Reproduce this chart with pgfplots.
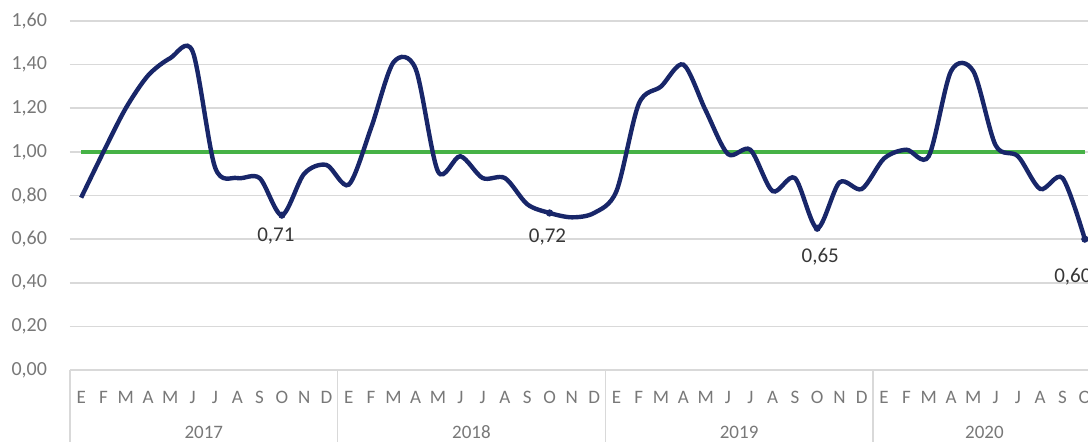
\documentclass[border=0pt]{standalone}
\usepackage{fontspec}
\setmainfont{Carlito}
\usepackage{pgfplots}
\pgfplotsset{compat=1.18}
\usepackage{pgfplotstable}

\definecolor{navy}{RGB}{24,38,105}
\definecolor{okgreen}{RGB}{70,178,70}
\definecolor{gridgray}{RGB}{217,217,217}
\definecolor{ticktext}{RGB}{120,120,120}
\definecolor{labeltext}{RGB}{55,55,55}

% month index (0 = E 2017) and value
\pgfplotstableread{
i v
0 0.79
1 1.00
2 1.20
3 1.35
4 1.43
5 1.46
6 0.93
7 0.88
8 0.88
9 0.71
10 0.90
11 0.94
12 0.85
13 1.11
14 1.41
15 1.38
16 0.91
17 0.98
18 0.88
19 0.88
20 0.76
21 0.72
22 0.70
23 0.72
24 0.82
25 1.22
26 1.30
27 1.40
28 1.19
29 0.99
30 1.01
31 0.82
32 0.88
33 0.65
34 0.86
35 0.83
36 0.97
37 1.01
38 0.98
39 1.37
40 1.37
41 1.03
42 0.98
43 0.83
44 0.88
45 0.60
}\indice

% labelled minima; dx, dy = shift of the label from the point (pt)
\pgfplotstableread{
i v dx dy
9 0.71 -3 10.5
21 0.72 -1 12
33 0.65 1.5 14.5
45 0.60 -6 19
}\minimos

\begin{document}
\begin{tikzpicture}
\begin{axis}[
  at={(35pt,35.5pt)}, anchor=south west,
  scale only axis, width=513pt, height=174.5pt,
  xmin=-0.5, xmax=45.5, ymin=0, ymax=1.6,
  clip=false,
  axis line style={draw=none},
  major tick length=0pt,
  ytick={0,0.2,0.4,0.6,0.8,1.0,1.2,1.4,1.6},
  ymajorgrids, grid style={gridgray, line width=0.8pt},
  yticklabel style={/pgf/number format/fixed, /pgf/number format/fixed zerofill,
    /pgf/number format/precision=2, /pgf/number format/use comma,
    /pgf/number format/assume math mode=true,
    font=\fontsize{10}{12}\selectfont, text=ticktext, anchor=east, xshift=-8pt},
  xtick={0,...,45},
  xticklabels={E,F,M,A,M,J,J,A,S,O,N,D,E,F,M,A,M,J,J,A,S,O,N,D,E,F,M,A,M,J,J,A,S,O,N,D,E,F,M,A,M,J,J,A,S,O},
  xticklabel style={font=\fontsize{9.5}{11}\selectfont, text=ticktext, anchor=center, yshift=-13.5pt},
  extra x ticks={5.5,17.5,29.5,40.5},
  extra x tick labels={2017,2018,2019,2020},
  extra x tick style={xticklabel style={yshift=-17.5pt}},
]
\pgfplotsinvokeforeach{-0.5,11.5,23.5,35.5}{
  \draw[gridgray, line width=0.8pt] (axis cs:#1,0) -- ++(0pt,-36pt);
}
\addplot[okgreen, line width=1.7pt] coordinates {(0,1) (45,1)};
\addplot[navy, line width=2.2pt, smooth, tension=0.5] table[x=i, y=v] {\indice};
\addplot[
  only marks, mark=*, mark size=1.6pt, navy,
  point meta=\thisrow{v},
  visualization depends on={\thisrow{dx}\as\dx},
  visualization depends on={\thisrow{dy}\as\dy},
  nodes near coords={\pgfmathprintnumber[fixed,fixed zerofill,precision=2,use comma,assume math mode=true]{\pgfplotspointmeta}},
  every node near coord/.style={anchor=center, xshift=\dx pt, yshift=-\dy pt, font=\fontsize{10.5}{12}\selectfont, text=labeltext},
] table[x=i, y=v] {\minimos};
\end{axis}
\pgfresetboundingbox
\path (0,0) rectangle (544pt,220.5pt);
\end{tikzpicture}
\end{document}
